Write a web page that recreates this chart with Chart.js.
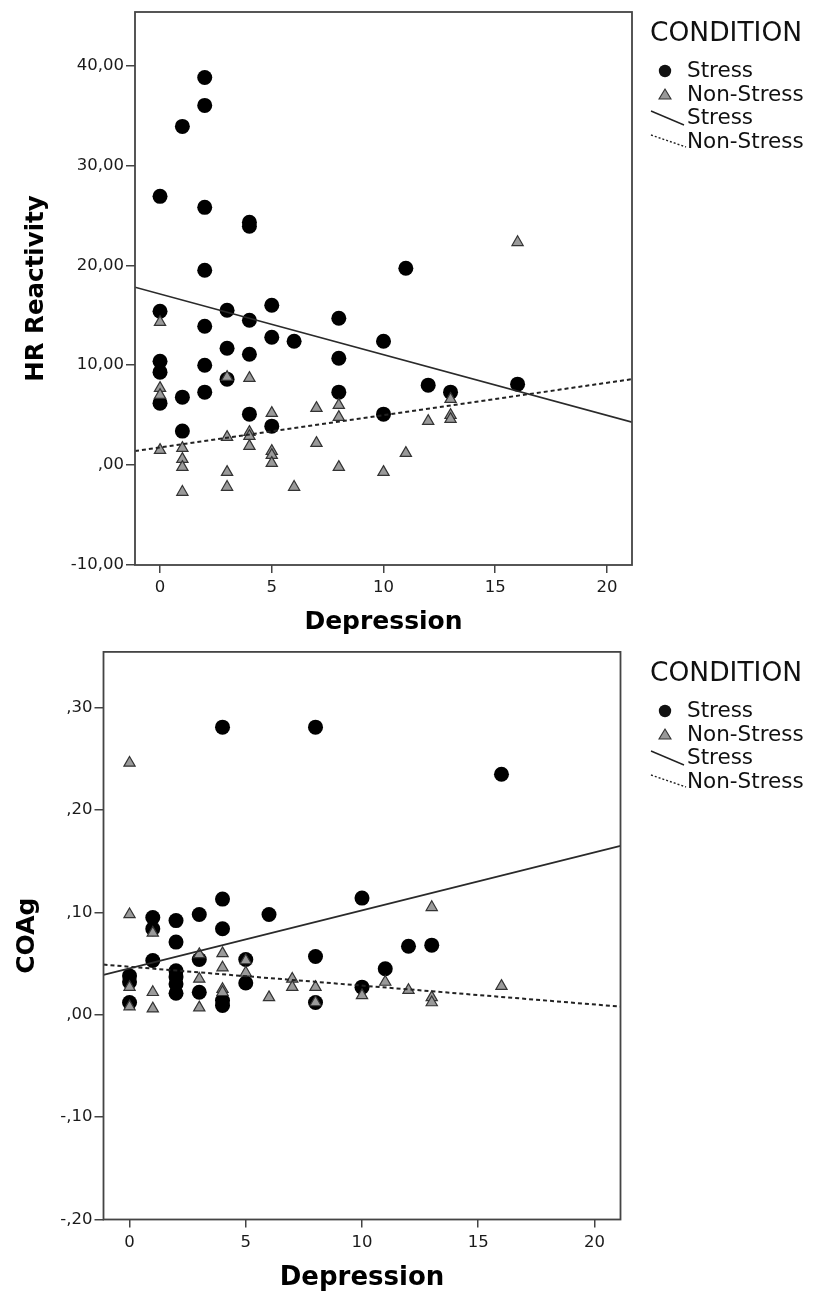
<!DOCTYPE html>
<html>
<head>
<meta charset="utf-8">
<title>HR Reactivity / COAg by Depression</title>
<script src="https://cdn.jsdelivr.net/npm/chart.js@4.4.0/dist/chart.umd.min.js"></script>
<style>
  body { margin: 0; background: #fff; }
  #wrap { position: relative; width: 822px; height: 1295px; }
  .panel { position: absolute; left: 0; width: 822px; }
</style>
</head>
<body>
<div id="wrap">
  <div class="panel" style="top:0;height:640px"><canvas id="hrChart" width="822" height="640"></canvas></div>
  <div class="panel" style="top:640px;height:655px"><canvas id="coagChart" width="822" height="655"></canvas></div>
</div>
<script>
// ===== DATA =====
const legendTitle = "CONDITION";
const legendLabels = ["Stress", "Non-Stress", "Stress", "Non-Stress"];
const xTitle = "Depression";

// HR Reactivity - Stress
const hrStressX = [2, 2, 1, 0, 2, 4, 4, 2, 11, 0, 3, 5, 4, 2, 8, 5, 6, 10, 3, 4, 8, 0, 0, 2, 3, 12, 16, 13, 8, 2, 1, 0, 4, 10, 5, 1];
const hrStressY = [38.8, 36.0, 33.9, 26.9, 25.8, 24.3, 23.9, 19.5, 19.7, 15.4, 15.5, 16.0, 14.5, 13.9, 14.7, 12.8, 12.4, 12.4, 11.7, 11.1, 10.7, 10.4, 9.3, 10.0, 8.6, 8.0, 8.1, 7.3, 7.3, 7.3, 6.8, 6.2, 5.1, 5.1, 3.9, 3.4];
// HR Reactivity - Non-Stress
const hrNonX = [0, 3, 4, 0, 0, 7, 8, 5, 8, 13, 13, 13, 12, 4, 4, 4, 3, 7, 0, 1, 1, 1, 5, 5, 5, 11, 3, 8, 10, 3, 6, 1, 16];
const hrNonY = [14.3, 8.8, 8.7, 7.7, 7.0, 5.7, 6.0, 5.2, 4.8, 6.6, 5.0, 4.6, 4.4, 3.3, 2.9, 1.9, 2.8, 2.2, 1.5, 1.7, 0.6, -0.2, 1.4, 1.0, 0.2, 1.2, -0.7, -0.2, -0.7, -2.2, -2.2, -2.7, 22.3];
// fit lines, values at the left and right edge of the plot
const fitX = [-1.12, 21.12];
const hrStressFit = [17.8, 4.3];
const hrNonFit = [1.4, 8.6];

// COAg - Stress
const coagStressX = [4, 8, 16, 4, 10, 1, 2, 3, 6, 4, 1, 2, 12, 13, 1, 3, 5, 8, 11, 2, 2, 2, 2, 0, 0, 0, 3, 4, 4, 5, 10, 8];
const coagStressY = [0.281, 0.281, 0.235, 0.113, 0.114, 0.095, 0.092, 0.098, 0.098, 0.084, 0.084, 0.071, 0.067, 0.068, 0.053, 0.054, 0.054, 0.057, 0.045, 0.043, 0.037, 0.030, 0.021, 0.038, 0.032, 0.012, 0.022, 0.014, 0.009, 0.031, 0.027, 0.012];
// COAg - Non-Stress
const coagNonX = [0, 0, 1, 3, 4, 5, 4, 5, 3, 7, 7, 8, 11, 12, 13, 13, 13, 16, 10, 8, 6, 4, 4, 3, 1, 1, 0, 0];
const coagNonY = [0.246, 0.098, 0.080, 0.059, 0.060, 0.053, 0.046, 0.041, 0.035, 0.035, 0.027, 0.027, 0.032, 0.024, 0.105, 0.017, 0.012, 0.028, 0.019, 0.012, 0.017, 0.025, 0.022, 0.007, 0.022, 0.006, 0.027, 0.008];
const coagStressFit = [0.039, 0.165];
const coagNonFit = [0.049, 0.008];

// ===== HELPERS =====
function toPoints(xs, ys) {
  return xs.map((x, i) => ({ x: x, y: ys[i] }));
}

// SPSS style numbers: 10,00 / ,00 / -,10
function spssNum(v, dec) {
  let s = Math.abs(v).toFixed(dec).replace(".", ",");
  if (s.indexOf("0,") === 0) s = s.slice(1);
  return (v < -1e-9 ? "-" : "") + s;
}

Chart.defaults.font.family = '"DejaVu Sans", sans-serif';
Chart.defaults.color = "#1a1a1a";

// box around the plot
const framePlugin = {
  id: "frame",
  afterDraw(chart) {
    const a = chart.chartArea;
    const ctx = chart.ctx;
    ctx.save();
    ctx.strokeStyle = "#444";
    ctx.lineWidth = 1.8;
    ctx.strokeRect(a.left, a.top, a.right - a.left, a.bottom - a.top);
    ctx.restore();
  },
};

// legend on the right, drawn by hand
const condLegend = {
  id: "condLegend",
  afterDraw(chart) {
    const ctx = chart.ctx;
    const x = 650;
    ctx.save();
    ctx.fillStyle = "#111";
    ctx.textBaseline = "middle";
    ctx.font = '26.5px "DejaVu Sans"';
    ctx.fillText(legendTitle, x, 34);

    ctx.font = '21.5px "DejaVu Sans"';
    const rows = [71, 95, 118, 142];
    legendLabels.forEach((t, i) => ctx.fillText(t, 687, rows[i]));

    // circle
    ctx.beginPath();
    ctx.arc(665, 71, 6.2, 0, Math.PI * 2);
    ctx.fill();
    // triangle
    ctx.beginPath();
    ctx.moveTo(665, 89);
    ctx.lineTo(671, 99);
    ctx.lineTo(659, 99);
    ctx.closePath();
    ctx.fillStyle = "#999";
    ctx.fill();
    ctx.strokeStyle = "#333";
    ctx.lineWidth = 1.1;
    ctx.stroke();
    // solid line
    ctx.strokeStyle = "#222";
    ctx.lineWidth = 1.4;
    ctx.beginPath();
    ctx.moveTo(651, 111);
    ctx.lineTo(684, 125);
    ctx.stroke();
    // dotted line
    ctx.setLineDash([2, 2]);
    ctx.beginPath();
    ctx.moveTo(651, 135);
    ctx.lineTo(686, 147);
    ctx.stroke();
    ctx.restore();
  },
};

function makeChart(id, cfg) {
  const ctx = document.getElementById(id).getContext("2d");
  return new Chart(ctx, {
    type: "scatter",
    data: {
      datasets: [
        {
          label: "Stress fit",
          data: toPoints(fitX, cfg.stressFit),
          showLine: true,
          borderColor: "#2a2a2a",
          borderWidth: 1.6,
          pointRadius: 0,
          order: -1,
        },
        {
          label: "Non-Stress fit",
          data: toPoints(fitX, cfg.nonFit),
          showLine: true,
          borderColor: "#222",
          borderWidth: 2,
          borderDash: [4, 3],
          pointRadius: 0,
          order: -1,
        },
        {
          label: "Non-Stress",
          data: toPoints(cfg.nonX, cfg.nonY),
          pointStyle: "triangle",
          pointRadius: 6.5,
          backgroundColor: "#9a9a9a",
          borderColor: "#333",
          borderWidth: 1.2,
          order: 0,
        },
        {
          label: "Stress",
          data: toPoints(cfg.stressX, cfg.stressY),
          pointStyle: "circle",
          pointRadius: 7.5,
          backgroundColor: "#000",
          borderColor: "#000",
          borderWidth: 0,
          order: 1,
        },
      ],
    },
    options: {
      responsive: false,
      devicePixelRatio: 1,
      animation: false,
      events: [],
      layout: { padding: { top: cfg.padTop, right: cfg.padRight, left: 0, bottom: 0 } },
      plugins: { legend: { display: false }, tooltip: { enabled: false } },
      scales: {
        x: {
          type: "linear",
          min: fitX[0],
          max: fitX[1],
          afterFit: (s) => { s.height = cfg.xHeight; },
          border: { display: false },
          grid: { drawOnChartArea: false, drawTicks: true, tickLength: 8, color: "#444", lineWidth: 1.5 },
          ticks: { stepSize: 5, includeBounds: false, padding: 5, font: { size: 16.5 }, maxRotation: 0 },
          title: {
            display: true,
            text: xTitle,
            color: "#000",
            font: { size: cfg.titleSize, weight: "bold", lineHeight: 1.2 },
            padding: { top: 0, bottom: cfg.xTitlePad },
          },
        },
        y: {
          type: "linear",
          min: cfg.yMin,
          max: cfg.yMax,
          afterFit: (s) => { s.width = cfg.yWidth; },
          afterBuildTicks: (s) => {
            s.ticks = s.ticks.filter((t) => Math.abs(t.value / cfg.yStep - Math.round(t.value / cfg.yStep)) < 1e-6);
          },
          border: { display: false },
          grid: { drawOnChartArea: false, drawTicks: true, tickLength: 9, color: "#444", lineWidth: 1.5 },
          ticks: {
            stepSize: cfg.yStep,
            includeBounds: false,
            padding: 2,
            font: { size: 16.5 },
            callback: (v) => spssNum(v, 2),
          },
          title: {
            display: true,
            text: cfg.yTitle,
            color: "#000",
            font: { size: cfg.yTitleSize, weight: "bold", lineHeight: 1.2 },
            padding: { top: cfg.yTitlePad, bottom: 0 },
          },
        },
      },
    },
    plugins: [framePlugin, condLegend],
  });
}

document.addEventListener("DOMContentLoaded", function () {
  /* ===== HR REACTIVITY ===== */
  makeChart("hrChart", {
    stressX: hrStressX, stressY: hrStressY,
    nonX: hrNonX, nonY: hrNonY,
    stressFit: hrStressFit, nonFit: hrNonFit,
    yMin: -10, yMax: 45.35, yStep: 10,
    yTitle: "HR Reactivity",
    padTop: 12, padRight: 190,
    xHeight: 75, yWidth: 135,
    titleSize: 25, xTitlePad: 3,
    yTitleSize: 24.5, yTitlePad: 22,
  });

  /* ===== COAg ===== */
  makeChart("coagChart", {
    stressX: coagStressX, stressY: coagStressY,
    nonX: coagNonX, nonY: coagNonY,
    stressFit: coagStressFit, nonFit: coagNonFit,
    yMin: -0.2, yMax: 0.3545, yStep: 0.1,
    yTitle: "COAg",
    padTop: 10, padRight: 201.5,
    xHeight: 75.5, yWidth: 103.5,
    titleSize: 26, xTitlePad: 1,
    yTitleSize: 25, yTitlePad: 12,
  });
});
</script>
</body>
</html>
